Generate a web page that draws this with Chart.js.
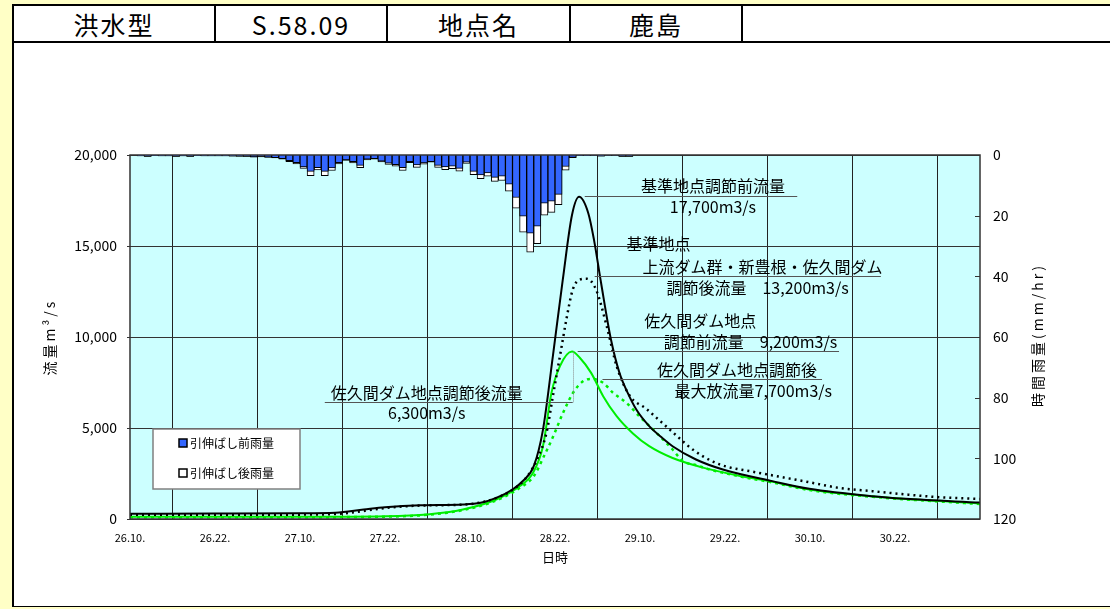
<!DOCTYPE html>
<html>
<head>
<meta charset="utf-8">
<script src="https://cdn.jsdelivr.net/npm/chart.js@4.4.0/dist/chart.umd.min.js"></script>
<style>
  html, body { margin: 0; padding: 0; width: 1110px; height: 609px; overflow: hidden; background: #ffffc6;
    font-family: "Noto Sans CJK JP", "Noto Sans", sans-serif; }
  #panel { position: absolute; left: 12px; top: 4px; width: 1110px; height: 600px; background: #fff;
    border-left: 2px solid #000; border-top: 2px solid #000; border-bottom: 1px solid #000; }
  .cell { position: absolute; top: 6px; height: 36px; display: flex; align-items: center; justify-content: center;
    font-size: 25px; color: #000; border-right: 2px solid #000; box-sizing: border-box; letter-spacing: 2px; }
  #rule { position: absolute; left: 12px; top: 41px; width: 1110px; height: 2px; background: #000; }
  #c { position: absolute; left: 0; top: 0; }
</style>
</head>
<body>
<div id="panel"></div>
<div class="cell" style="left:14px;width:202px;">洪水型</div>
<div class="cell" style="left:216px;width:172px;">S.58.09</div>
<div class="cell" style="left:388px;width:183px;">地点名</div>
<div class="cell" style="left:571px;width:172px;">鹿島</div>
<div id="rule"></div>
<canvas id="c" width="1110" height="609"></canvas>
<script>
// x axis: hours counted from 26日10時; one label every 12 hours
const tickLabels = ['26.10.', '26.22.', '27.10.', '27.22.', '28.10.', '28.22.', '29.10.', '29.22.', '30.10.', '30.22.'];

// hourly rainfall (mm/hr), hour 0 .. 70 (no rain afterwards)
const rainBefore = [
  0, 0.3, 0.5, 0.2, 0.3, 0.3, 0.5, 0.3, 0.5, 0.2,
  0.3, 0.3, 0.3, 0.3, 0.4, 0.4, 0.5, 0.6, 0.5, 0.7,
  0.9, 1.2, 1.9, 2.5, 3.9, 5.4, 4.2, 5.4, 4.3, 2.5,
  1.6, 2.2, 3.4, 1.4, 1.2, 2.0, 2.7, 3.2, 4.2, 2.2,
  3.3, 2.6, 2.2, 3.4, 3.9, 3.7, 4.4, 2.4, 5.4, 6.6,
  5.9, 7.4, 7.0, 9.6, 14.0, 20.2, 25.8, 23.5, 15.9, 15.2,
  13.0, 3.8, 0.8, 0.2, 0.2, 0.1, 0.4, 0.1, 0.1, 0.5,
  0.5
];
const rainAfter = [
  0, 0.3, 0.5, 0.2, 0.3, 0.3, 0.5, 0.3, 0.5, 0.2,
  0.3, 0.3, 0.3, 0.3, 0.4, 0.5, 0.5, 0.7, 0.6, 0.8,
  1.0, 1.4, 2.2, 2.9, 4.4, 6.8, 4.9, 6.8, 5.1, 2.9,
  1.8, 2.6, 4.2, 1.6, 1.4, 2.3, 3.1, 3.7, 5.1, 2.5,
  4.1, 3.0, 2.4, 4.1, 4.8, 4.5, 5.3, 2.8, 6.5, 7.8,
  7.0, 8.7, 8.4, 11.9, 17.5, 25.4, 32.0, 29.2, 19.8, 18.9,
  16.4, 5.0, 0.9, 0.2, 0.2, 0.1, 0.4, 0.1, 0.1, 0.5,
  0.5
];

// 基準地点 調節前流量 (m3/s)
const baseBeforeHours = [0, 12, 24, 29, 33, 36, 41, 47, 49.5, 51.7, 54, 55.5, 57, 58.3, 59.7, 61.1, 62.4, 63.4,
  64.7, 65.5, 66.5, 67.9, 69.1, 70.3, 71.5, 73.3, 75, 76.6, 79.9, 83.7, 90.7, 95.9, 104.8, 109.5, 120];
const baseBeforeFlow = [290, 300, 310, 340, 520, 650, 760, 800, 890, 1160, 1620, 2100, 2900, 4900, 8950, 13150, 16700, 17700,
  16800, 15350, 12980, 9860, 8030, 6900, 6000, 5100, 4500, 4000, 3270, 2720, 2080, 1660, 1250, 1110, 900];

// 基準地点 上流ダム群・新豊根・佐久間ダム調節後流量
const baseAfterHours = [0, 24, 30, 36, 41, 47, 50, 52, 54, 56, 57.5, 58.8, 59.7, 60.7, 61.6, 62.5, 63.5, 64.5,
  65.8, 67.3, 68.7, 70.5, 72.9, 74.8, 77.1, 79.5, 82.3, 84.2, 87.9, 92.6, 95.9, 100.1, 104.8, 109.5, 114.2, 120];
const baseAfterFlow = [230, 240, 300, 600, 740, 790, 950, 1200, 1600, 2300, 3300, 4740, 6750, 8950, 10950, 12600, 13150, 13200,
  12600, 10600, 8400, 6800, 6050, 5400, 4600, 3800, 3150, 2880, 2600, 2260, 2020, 1710, 1530, 1350, 1200, 1100];

// 佐久間ダム地点 調節前流量
const sakumaBeforeHours = [0, 24, 36, 42, 47, 51.7, 55, 56.9, 58.3, 59.5, 60.7, 62.4, 63.5, 65.1, 66.8, 68.7,
  71, 73.3, 76.6, 81.3, 86, 90.7, 95.9, 104.8, 120];
const sakumaBeforeFlow = [120, 120, 150, 250, 520, 1070, 1800, 2540, 4000, 6930, 8400, 9200, 8860, 8030, 6750, 5650,
  4700, 4000, 3350, 2780, 2370, 2040, 1620, 1240, 850];

// 佐久間ダム地点 調節後流量
const sakumaAfterHours = [0, 24, 36, 42, 47, 51.7, 55, 57, 58.5, 59.7, 61.1, 62.5, 63.9, 65.1, 66.8, 68.2, 70.1,
  71.9, 74.3, 76.6, 78, 80, 81.3, 86, 90.7, 95.9, 104.8, 120];
const sakumaAfterFlow = [100, 100, 130, 230, 490, 1020, 1700, 2350, 3500, 4500, 5800, 6900, 7550, 7700, 7480, 6930, 6380,
  5650, 4740, 3820, 3200, 2950, 2780, 2350, 2010, 1590, 1220, 820];

const FONT = '"Noto Sans CJK JP", "Noto Sans", sans-serif';

const pairs = (hs, vs) => hs.map((h, i) => ({ x: h, y: vs[i] }));
const hourly = vs => vs.map((v, i) => ({ x: i + 0.5, y: v }));

// callout texts with leader lines, anchored in hours / flow
const notes = [
  { from: 64.2, to: 94.2, value: 17700, nudge: -1,
    lines: [['基準地点調節前流量', 82.3, -11], ['17,700m3/s', 82.3, 10]] },
  { from: 65.6, to: 106, value: 13200, nudge: -2.5,
    lines: [['基準地点', 74.6, -33], ['上流ダム群・新豊根・佐久間ダム', 89.3, -10], ['調節後流量　13,200m3/s', 88.6, 11.5]] },
  { from: 63.2, to: 100.1, value: 9200, nudge: -1,
    lines: [['佐久間ダム地点', 80.5, -31], ['調節前流量　9,200m3/s', 87.6, -9.5]] },
  { from: 66.7, to: 97.7, value: 7700, nudge: 0,
    lines: [['佐久間ダム地点調節後', 85.7, -9.7], ['最大放流量7,700m3/s', 88, 11]] },
  { from: 27.5, to: 62.5, value: 6300, nudge: -2,
    lines: [['佐久間ダム地点調節後流量', 41.9, -10], ['6,300m3/s', 41.9, 10.6]] }
];

const legendItems = [['引伸ばし前雨量', '#3366ff'], ['引伸ばし後雨量', '#ffffff']];

const decor = {
  id: 'decor',
  beforeDraw(chart) {
    const { ctx, chartArea: a } = chart;
    ctx.save();
    ctx.fillStyle = '#ccffff';
    ctx.fillRect(a.left, a.top, a.width, a.height);
    ctx.restore();
  },
  afterDatasetsDraw(chart) {
    const { ctx, chartArea: a, scales } = chart;
    const X = scales.x, Y = scales.y, R = scales.yRain;
    ctx.save();

    // plot frame
    ctx.strokeStyle = '#333';
    ctx.lineWidth = 1.5;
    ctx.strokeRect(a.left, a.top, a.width, a.height);

    // rain axis tick marks, pointing inward
    ctx.lineWidth = 1;
    ctx.strokeStyle = '#333';
    R.ticks.forEach(t => {
      const y = Math.round(R.getPixelForValue(t.value)) + 0.5;
      ctx.beginPath(); ctx.moveTo(a.right - 5, y); ctx.lineTo(a.right, y); ctx.stroke();
    });

    // callouts
    ctx.font = '16px ' + FONT;
    ctx.fillStyle = '#000';
    ctx.textAlign = 'center';
    ctx.textBaseline = 'middle';
    notes.forEach(n => {
      const y = Math.round(Y.getPixelForValue(n.value) + n.nudge) + 0.5;
      ctx.strokeStyle = '#555';
      ctx.lineWidth = 1;
      ctx.beginPath();
      ctx.moveTo(X.getPixelForValue(n.from), y);
      ctx.lineTo(X.getPixelForValue(n.to), y);
      ctx.stroke();
      n.lines.forEach(([t, h, dy]) => ctx.fillText(t, X.getPixelForValue(h), y + dy));
    });
    // leader from the 佐久間 peak down to its callout
    const lx = Math.round(X.getPixelForValue(62.5)) + 0.5;
    ctx.strokeStyle = '#888';
    ctx.setLineDash([1, 1]);
    ctx.beginPath();
    ctx.moveTo(lx, Y.getPixelForValue(9200));
    ctx.lineTo(lx, Y.getPixelForValue(6300) - 2);
    ctx.stroke();
    ctx.setLineDash([]);

    // legend box
    const bx = a.left + 23, by = a.top + 274, bw = 147, bh = 60;
    ctx.fillStyle = '#fff';
    ctx.fillRect(bx, by, bw, bh);
    ctx.strokeStyle = '#808080';
    ctx.lineWidth = 1.5;
    ctx.strokeRect(bx, by, bw, bh);
    ctx.font = '12px ' + FONT;
    ctx.textAlign = 'left';
    legendItems.forEach(([label, color], i) => {
      const cy = by + 14 + i * 30;
      ctx.fillStyle = color;
      ctx.fillRect(bx + 26, cy - 4, 8, 8);
      ctx.strokeStyle = '#000';
      ctx.lineWidth = 1.5;
      ctx.strokeRect(bx + 26, cy - 4, 8, 8);
      ctx.fillStyle = '#000';
      ctx.fillText(label, bx + 37, cy);
    });
    ctx.restore();
  },
  afterDraw(chart) {
    const { ctx, chartArea: a } = chart;
    const midY = (a.top + a.bottom) / 2;
    ctx.save();
    ctx.fillStyle = '#000';
    ctx.font = '14px ' + FONT;
    ctx.textAlign = 'center';
    ctx.textBaseline = 'middle';
    ctx.letterSpacing = '3px';
    // left axis title
    ctx.save();
    ctx.translate(50, midY);
    ctx.rotate(-Math.PI / 2);
    ctx.fillText('流量m³/s', 0, 0);
    ctx.restore();
    // right axis title
    ctx.save();
    ctx.translate(1038, midY - 2);
    ctx.rotate(-Math.PI / 2);
    ctx.fillText('時間雨量(mm/hr)', 0, 0);
    ctx.restore();
    ctx.restore();
  }
};

Chart.defaults.font.family = FONT;
Chart.defaults.color = '#000';

new Chart(document.getElementById('c'), {
  type: 'bar',
  data: {
    datasets: [
      { type: 'line', label: '基準地点調節前流量', data: pairs(baseBeforeHours, baseBeforeFlow), yAxisID: 'y',
        borderColor: '#000', borderWidth: 2, pointRadius: 0, cubicInterpolationMode: 'monotone', fill: false },
      { type: 'line', label: '基準地点調節後流量', data: pairs(baseAfterHours, baseAfterFlow), yAxisID: 'y',
        borderColor: '#000', borderWidth: 2.5, borderDash: [2, 4], pointRadius: 0, cubicInterpolationMode: 'monotone', fill: false },
      { type: 'line', label: '佐久間ダム地点調節前流量', data: pairs(sakumaBeforeHours, sakumaBeforeFlow), yAxisID: 'y',
        borderColor: '#00ee00', borderWidth: 2, pointRadius: 0, cubicInterpolationMode: 'monotone', fill: false },
      { type: 'line', label: '佐久間ダム地点調節後流量', data: pairs(sakumaAfterHours, sakumaAfterFlow), yAxisID: 'y',
        borderColor: '#00ee00', borderWidth: 2.5, borderDash: [3, 4], pointRadius: 0, cubicInterpolationMode: 'monotone', fill: false },
      { type: 'bar', label: '引伸ばし前雨量', data: hourly(rainBefore), yAxisID: 'yRain', grouped: false,
        backgroundColor: '#3366ff', borderColor: '#000', borderWidth: 1, barPercentage: 1, categoryPercentage: 1 },
      { type: 'bar', label: '引伸ばし後雨量', data: hourly(rainAfter), yAxisID: 'yRain', grouped: false,
        backgroundColor: '#ffffff', borderColor: '#000', borderWidth: 1, barPercentage: 1, categoryPercentage: 1 }
    ]
  },
  options: {
    responsive: false,
    animation: false,
    devicePixelRatio: 1,
    layout: { padding: { left: 0, top: 155, right: 0, bottom: 40 } },
    plugins: { legend: { display: false }, tooltip: { enabled: false } },
    scales: {
      x: {
        type: 'linear', min: 0, max: 120, offset: false,
        ticks: { stepSize: 12, autoSkip: false, maxRotation: 0, padding: 12, font: { size: 11 },
          callback: v => tickLabels[v / 12] ?? '' },
        grid: { color: '#222', lineWidth: 1, drawTicks: false },
        border: { display: false },
        title: { display: true, text: '日時', font: { size: 13 }, padding: { top: 4, bottom: 4 } },
        afterFit(s) { s.height = 50; }
      },
      y: {
        position: 'left', min: 0, max: 20000,
        ticks: { stepSize: 5000, padding: 10, font: { size: 14 }, callback: v => v.toLocaleString('en-US') },
        grid: { color: '#333', lineWidth: 1, tickLength: 3 },
        border: { display: false },
        afterFit(s) { s.width = 130; }
      },
      yRain: {
        position: 'right', reverse: true, min: 0, max: 120,
        ticks: { stepSize: 20, padding: 13, font: { size: 14 } },
        grid: { display: false, drawTicks: false },
        border: { display: false },
        afterFit(s) { s.width = 130; }
      }
    }
  },
  plugins: [decor]
});
</script>
</body>
</html>
